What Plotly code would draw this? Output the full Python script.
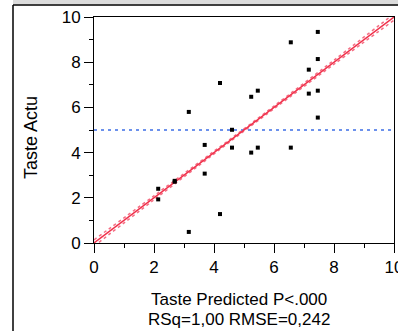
import plotly.graph_objects as go

# Data
pred_x = [3.16, 7.46, 6.56, 7.46, 7.16, 4.20, 5.46, 5.24, 7.16, 7.46, 7.46, 4.60,
          3.69, 4.60, 5.24, 5.46, 6.56, 2.14, 2.14, 2.69, 2.69, 3.16, 3.69, 4.20]
actual_y = [5.80, 9.34, 8.88, 8.14, 7.67, 7.08, 6.74, 6.47, 6.61, 6.74, 5.55, 5.01,
            4.34, 4.22, 4.00, 4.22, 4.22, 2.40, 1.93, 2.71, 2.75, 0.49, 3.07, 1.28]

fit_x = [0, 10]
fit_y = [0, 10]

band_x = [0, 2, 4, 5, 6, 8, 10]
band_upper = [0.14, 2.09, 4.06, 5.05, 6.06, 8.09, 10.14]
band_lower = [-0.14, 1.91, 3.94, 4.95, 5.94, 7.91, 9.86]

mean_x = [0, 10]
mean_y = [5, 5]

tick_vals = [0, 2, 4, 6, 8, 10]
tick_text = ["0", "2", "4", "6", "8", "10"]

x_title_1 = "Taste Predicted P<.000"
x_title_2 = "RSq=1,00 RMSE=0,242"
y_title = "Taste Actu"

FONT = "Liberation Sans, Arial, sans-serif"
RED = "#f0304a"

fig = go.Figure()
fig.add_trace(go.Scatter(x=mean_x, y=mean_y, mode="lines",
                         line=dict(color="#3c6ee6", width=1.3, dash="3px,4px"),
                         hoverinfo="skip"))
fig.add_trace(go.Scatter(x=band_x, y=band_upper, mode="lines",
                         line=dict(color="rgba(240,60,90,0.75)", width=1.5, dash="dot", shape="spline"),
                         hoverinfo="skip"))
fig.add_trace(go.Scatter(x=band_x, y=band_lower, mode="lines",
                         line=dict(color="rgba(240,60,90,0.75)", width=1.5, dash="dot", shape="spline"),
                         hoverinfo="skip"))
fig.add_trace(go.Scatter(x=fit_x, y=fit_y, mode="lines",
                         line=dict(color=RED, width=1.4)))
fig.add_trace(go.Scatter(x=pred_x, y=actual_y, mode="markers",
                         marker=dict(symbol="square", size=4, color="black")))

axis_common = dict(range=[0, 10], tickvals=tick_vals, ticktext=tick_text,
                   ticks="outside", ticklen=9, tickwidth=1, tickcolor="black",
                   showline=True, linecolor="black", linewidth=1, mirror=True,
                   showgrid=False, zeroline=False, ticklabeloverflow="allow",
                   automargin=False,
                   tickfont=dict(family=FONT, size=17, color="black"),
                   minor=dict(dtick=1, tick0=1, ticks="outside", ticklen=4,
                              tickwidth=1, tickcolor="black", showgrid=False))

fig.update_layout(
    width=398, height=331,
    margin=dict(l=94, r=4, t=17, b=88),
    paper_bgcolor="white", plot_bgcolor="white",
    showlegend=False,
    xaxis=dict(**axis_common),
    yaxis=dict(**axis_common),
    font=dict(family=FONT, color="black"),
)

# Outer panel frame
fig.add_shape(type="rect", xref="paper", yref="paper",
              x0=-0.27, x1=1.02, y0=1.056, y1=1.08,
              fillcolor="#dcdcdc", line=dict(width=0), layer="below")
fig.add_shape(type="line", xref="paper", yref="paper",
              x0=-0.27, x1=1.02, y0=1.053, y1=1.053,
              line=dict(color="black", width=1.5))
fig.add_shape(type="line", xref="paper", yref="paper",
              x0=-0.27, x1=-0.27, y0=1.053, y1=-0.40,
              line=dict(color="black", width=1.5))

fig.add_annotation(text=x_title_1, xref="paper", yref="paper",
                   x=0.482, y=-0.25, xanchor="center", yanchor="middle",
                   showarrow=False, font=dict(family=FONT, size=17, color="black"))
fig.add_annotation(text=x_title_2, xref="paper", yref="paper",
                   x=0.482, y=-0.3385, xanchor="center", yanchor="middle",
                   showarrow=False, font=dict(family=FONT, size=17, color="black"))
fig.add_annotation(text=y_title, xref="paper", yref="paper",
                   x=-0.208, y=0.467, xanchor="center", yanchor="middle",
                   textangle=-90, showarrow=False,
                   font=dict(family=FONT, size=18, color="black"))

fig.write_html("out.html", config={"displayModeBar": False},
               post_script="document.body.style.margin='0';document.body.style.overflow='hidden';")
